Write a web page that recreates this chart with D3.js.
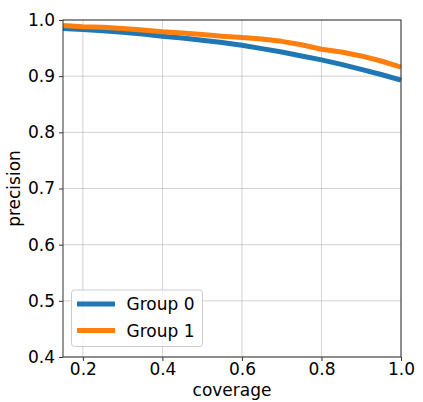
<!DOCTYPE html>
<html lang="en">
<head>
    <meta charset="UTF-8">
    <title>Precision vs coverage</title>
    <script src="https://d3js.org/d3.v7.min.js"></script>
    <style>
        body { margin: 0; background: #fff; }
        text {
            font-family: "DejaVu Sans", sans-serif;
            fill: #000;
        }
        .grid line {
            stroke: #b0b0b0;
            stroke-width: 0.8;
            opacity: 0.7;
        }
        .axis path, .axis line {
            stroke: #333;
        }
        .curve {
            fill: none;
            stroke-width: 5;
            stroke-linejoin: round;
        }
    </style>
</head>
<body>
<script>
    const width = 423;
    const height = 402;
    const margin = {top: 20, right: 22, bottom: 45, left: 63};
    const fontSize = "17px";

    const coverage = [0.15, 0.2, 0.25, 0.3, 0.35, 0.4, 0.45, 0.5, 0.55, 0.6,
                      0.65, 0.7, 0.75, 0.8, 0.85, 0.9, 0.95, 1.0];
    const group0 = [0.985, 0.983, 0.981, 0.978, 0.975, 0.971, 0.968, 0.964, 0.960, 0.955,
                    0.949, 0.943, 0.936, 0.929, 0.921, 0.912, 0.903, 0.893];
    const group1 = [0.990, 0.988, 0.987, 0.985, 0.982, 0.979, 0.977, 0.974, 0.971, 0.969,
                    0.966, 0.962, 0.956, 0.948, 0.943, 0.936, 0.927, 0.916];
    const seriesNames = ["Group 0", "Group 1"];
    const colors = ["#1f77b4", "#ff7f0e"];
    const xTicks = [0.2, 0.4, 0.6, 0.8, 1.0];
    const yTicks = [0.4, 0.5, 0.6, 0.7, 0.8, 0.9, 1.0];

    const x = d3.scaleLinear().domain([0.15, 1.0]).range([margin.left, width - margin.right]);
    const y = d3.scaleLinear().domain([0.4, 1.0]).range([height - margin.bottom, margin.top]);

    const svg = d3.select("body").append("svg").attr("width", width).attr("height", height);

    // grid
    const grid = svg.append("g").attr("class", "grid");
    grid.selectAll("line.gx").data(xTicks).enter().append("line")
        .attr("x1", d => x(d)).attr("x2", d => x(d))
        .attr("y1", margin.top).attr("y2", height - margin.bottom);
    grid.selectAll("line.gy").data(yTicks).enter().append("line")
        .attr("y1", d => y(d)).attr("y2", d => y(d))
        .attr("x1", margin.left).attr("x2", width - margin.right);

    // curves
    const line = d3.line()
        .x((d, i) => x(coverage[i]))
        .y(d => y(d));
    const plot = svg.append("g");
    [group0, group1].forEach((s, i) => {
        plot.append("path")
            .attr("class", "curve")
            .attr("stroke", colors[i])
            .attr("d", line(s));
    });

    // spines
    svg.append("rect")
        .attr("x", margin.left).attr("y", margin.top)
        .attr("width", width - margin.left - margin.right)
        .attr("height", height - margin.top - margin.bottom)
        .attr("fill", "none").attr("stroke", "#333").attr("stroke-width", 1);

    // axes
    svg.append("g").attr("class", "axis")
        .attr("transform", `translate(0,${height - margin.bottom})`)
        .call(d3.axisBottom(x).tickValues(xTicks).tickFormat(d3.format(".1f")).tickSize(4).tickPadding(2));
    svg.append("g").attr("class", "axis")
        .attr("transform", `translate(${margin.left},0)`)
        .call(d3.axisLeft(y).tickValues(yTicks).tickFormat(d3.format(".1f")).tickSize(4).tickPadding(4));
    svg.selectAll(".axis text").style("font-size", fontSize).attr("fill", "#000");
    svg.selectAll(".axis .domain").remove();

    svg.append("text")
        .attr("x", (margin.left + width - margin.right) / 2)
        .attr("y", 395.5)
        .attr("text-anchor", "middle")
        .style("font-size", fontSize)
        .text("coverage");

    svg.append("text")
        .attr("transform", `translate(20,${(margin.top + height - margin.bottom) / 2}) rotate(-90)`)
        .attr("text-anchor", "middle")
        .style("font-size", fontSize)
        .text("precision");

    // legend
    const legend = svg.append("g").attr("transform", "translate(71.5,290)");
    legend.append("rect")
        .attr("width", 131).attr("height", 56.5)
        .attr("rx", 3)
        .attr("fill", "#fff").attr("fill-opacity", 0.8)
        .attr("stroke", "#ccc").attr("stroke-width", 1);
    seriesNames.forEach((name, i) => {
        const yy = 14 + i * 26.5;
        legend.append("line")
            .attr("x1", 5.5).attr("x2", 43.5)
            .attr("y1", yy).attr("y2", yy)
            .attr("stroke", colors[i]).attr("stroke-width", 5);
        legend.append("text")
            .attr("x", 55).attr("y", yy + 6)
            .style("font-size", fontSize)
            .text(name);
    });
</script>
</body>
</html>
